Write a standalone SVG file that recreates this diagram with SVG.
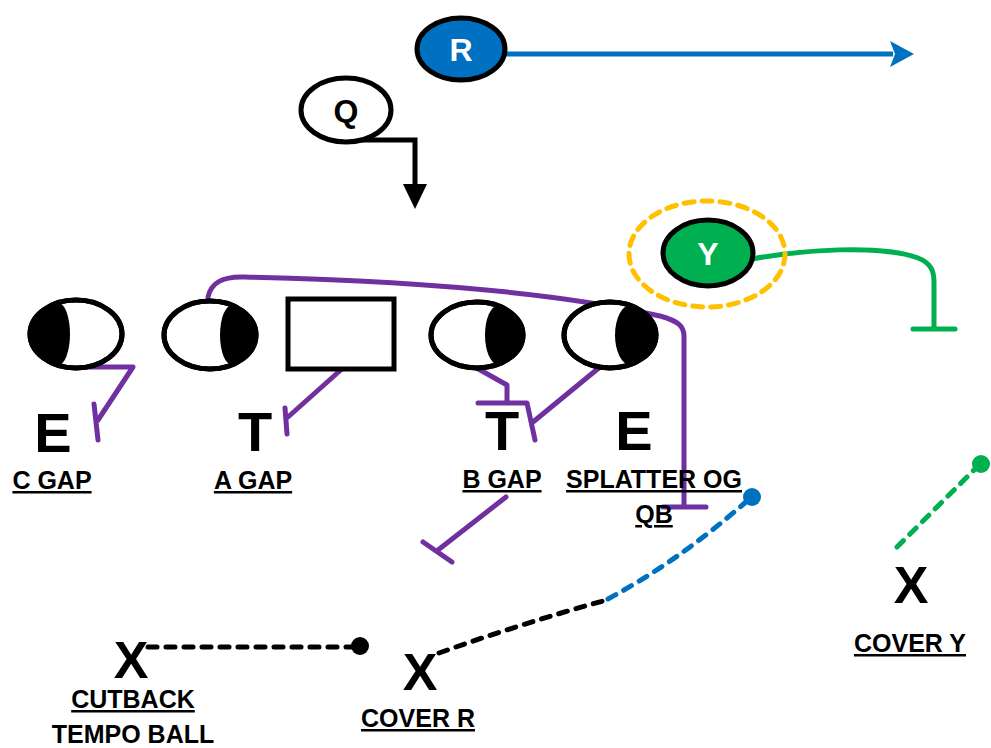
<svg xmlns="http://www.w3.org/2000/svg" width="991" height="748" viewBox="0 0 991 748">
<style>
.lbl{font-family:"Liberation Sans",Arial,sans-serif;font-weight:bold;font-size:25px;fill:#000;text-anchor:middle;text-decoration:underline}
.big{font-family:"Liberation Sans",Arial,sans-serif;font-weight:bold;font-size:56px;fill:#000;text-anchor:middle}
.xx{font-family:"Liberation Sans",Arial,sans-serif;font-weight:bold;font-size:52px;fill:#000;text-anchor:middle}
.nl{font-family:"Liberation Sans",Arial,sans-serif;font-weight:bold;font-size:32px;text-anchor:middle}
.dl{fill:#fff;stroke:#000;stroke-width:5}
.cr{fill:#000}
.pu{fill:none;stroke:#7030A0;stroke-width:5;stroke-linecap:round;stroke-linejoin:round}
.dot{fill:none;stroke-width:5;stroke-linecap:round;stroke-dasharray:9 9}
</style>

<g id="connectors">
<path d="M505,54 L893,54" stroke="#0070C0" stroke-width="5" fill="none"/>
<path d="M890,41 L914,54 L890,67 L895,54 Z" fill="#0070C0"/>
<path d="M350,140 L415,140 L415,188" stroke="#000" stroke-width="5" fill="none"/>
<path d="M403,184 L427,184 L415,209 Z" fill="#000"/>
<path d="M752,259 C800,250 880,244 918,258 C931,263 934,271 934,282 L934,329 M913,329 L955,329" stroke="#00B050" stroke-width="5" fill="none" stroke-linecap="round" stroke-linejoin="round"/>
<path class="pu" d="M77,367 L133,367 L98,420 M94,404 L98,440"/>
<path class="pu" d="M343,368 L288,417 M285,408 L287,434"/>
<path class="pu" d="M473,366 L507,385 L507,403 M478,403 L527,403 L535,440 M600,367 L533,422"/>
<path class="pu" d="M506,497 L438,550 M423,542 L452,562"/>
<path class="pu" d="M208,297 C211,283 222,276 245,277 C420,281 560,293 660,316 C678,321 684,326 684,336 L684,507 M663,507 L706,507"/>
<path class="dot" stroke="#000" d="M148,647 L352,647"/>
<circle cx="360" cy="646" r="9" fill="#000"/>
<path class="dot" stroke="#000" d="M439,653 Q520,624 603,601"/>
<path class="dot" stroke="#0070C0" d="M608,599 Q680,560 747,501"/>
<circle cx="752" cy="497" r="9" fill="#0070C0"/>
<path class="dot" stroke="#00B050" d="M897,547 L975,469"/>
<circle cx="981" cy="464" r="9" fill="#00B050"/>
</g>

<g id="node-R">
<ellipse cx="461" cy="49" rx="44" ry="31" fill="#0070C0" stroke="#000" stroke-width="5"/>
<text class="nl" x="461" y="61" fill="#fff">R</text>
</g>
<g id="node-Q">
<ellipse cx="346" cy="110" rx="45" ry="32" fill="#fff" stroke="#000" stroke-width="5"/>
<text class="nl" x="346" y="122" fill="#000">Q</text>
</g>
<g id="node-Y">
<ellipse cx="707" cy="254" rx="78" ry="53" fill="none" stroke="#FFC000" stroke-width="5" stroke-dasharray="10 8" stroke-linecap="round"/>
<ellipse cx="708" cy="253" rx="45" ry="33" fill="#00B050" stroke="#000" stroke-width="5"/>
<text class="nl" x="708" y="265" fill="#fff">Y</text>
</g>

<g id="node-DE1">
<ellipse class="dl" cx="76" cy="334" rx="46" ry="34"/>
<path class="cr" d="M58,302.7 A46,34 0 0 0 58,365.3 A12,31.3 0 0 0 58,302.7 Z"/>
<ellipse cx="76" cy="334" rx="46" ry="34" fill="none" stroke="#000" stroke-width="5"/>
</g>
<g id="node-DT1">
<ellipse class="dl" cx="210" cy="335" rx="46" ry="34"/>
<path class="cr" d="M232,305.1 A46,34 0 0 1 232,364.9 A12,29.9 0 0 1 232,305.1 Z"/>
<ellipse cx="210" cy="335" rx="46" ry="34" fill="none" stroke="#000" stroke-width="5"/>
</g>
<g id="node-C">
<rect x="288" y="299" width="106" height="70" fill="#fff" stroke="#000" stroke-width="5"/>
</g>
<g id="node-DT2">
<ellipse class="dl" cx="477" cy="335" rx="46" ry="33"/>
<path class="cr" d="M498,305.6 A46,33 0 0 1 498,364.4 A13,29.4 0 0 1 498,305.6 Z"/>
<ellipse cx="477" cy="335" rx="46" ry="33" fill="none" stroke="#000" stroke-width="5"/>
</g>
<g id="node-DE2">
<ellipse class="dl" cx="610" cy="335" rx="46" ry="33"/>
<path class="cr" d="M630,305.3 A46,33 0 0 1 630,364.7 A15,29.7 0 0 1 630,305.3 Z"/>
<ellipse cx="610" cy="335" rx="46" ry="33" fill="none" stroke="#000" stroke-width="5"/>
</g>

<g id="labels">
<text class="big" x="53" y="452">E</text>
<text class="big" x="255" y="451">T</text>
<text class="big" x="502" y="450">T</text>
<text class="big" x="634" y="450">E</text>
<text class="lbl" x="52" y="489">C GAP</text>
<text class="lbl" x="253" y="489">A GAP</text>
<text class="lbl" x="502" y="488">B GAP</text>
<text class="lbl" x="654" y="488">SPLATTER OG</text>
<text class="lbl" x="654" y="523">QB</text>
</g>

<g id="node-X1">
<text class="xx" x="131" y="678">X</text>
<text class="lbl" x="133" y="708">CUTBACK</text>
<text class="lbl" x="133" y="743" style="text-decoration:none">TEMPO BALL</text>
</g>
<g id="node-X2">
<text class="xx" x="420" y="690">X</text>
<text class="lbl" x="418" y="727">COVER R</text>
</g>
<g id="node-X3">
<text class="xx" x="911" y="603">X</text>
<text class="lbl" x="910" y="652">COVER Y</text>
</g>
</svg>
